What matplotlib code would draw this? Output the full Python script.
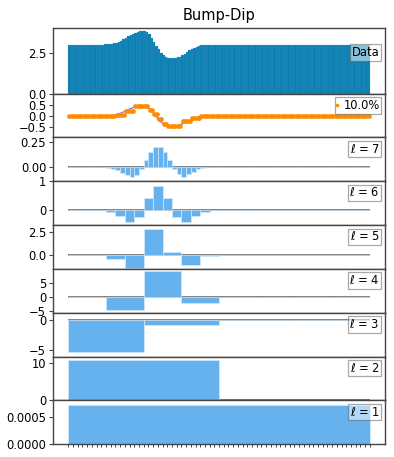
import numpy as np
import matplotlib
matplotlib.use("Agg")
import matplotlib.pyplot as plt
from matplotlib.lines import Line2D

title = "Bump-Dip"

data = [
    3.00, 3.00, 3.00, 3.00, 3.00, 3.00, 3.00, 3.00, 3.00, 3.00, 3.00, 3.00, 3.00, 3.00, 3.00, 3.01,
    3.01, 3.02, 3.04, 3.07, 3.11, 3.17, 3.24, 3.32, 3.41, 3.50, 3.58, 3.66, 3.72, 3.77, 3.81, 3.83,
    3.82, 3.76, 3.63, 3.43, 3.18, 2.93, 2.70, 2.51, 2.37, 2.27, 2.20, 2.16, 2.15, 2.17, 2.21, 2.27,
    2.35, 2.44, 2.54, 2.64, 2.73, 2.81, 2.88, 2.93, 2.96, 2.98, 2.99, 3.00, 3.00, 3.00, 3.00, 3.00,
    3.00, 3.00, 3.00, 3.00, 3.00, 3.00, 3.00, 3.00, 3.00, 3.00, 3.00, 3.00, 3.00, 3.00, 3.00, 3.00,
    3.00, 3.00, 3.00, 3.00, 3.00, 3.00, 3.00, 3.00, 3.00, 3.00, 3.00, 3.00, 3.00, 3.00, 3.00, 3.00,
    3.00, 3.00, 3.00, 3.00, 3.00, 3.00, 3.00, 3.00, 3.00, 3.00, 3.00, 3.00, 3.00, 3.00, 3.00, 3.00,
    3.00, 3.00, 3.00, 3.00, 3.00, 3.00, 3.00, 3.00, 3.00, 3.00, 3.00, 3.00, 3.00, 3.00, 3.00, 3.00,
]

signal_centered = [
    0, 0, 0, 0, 0, 0, 0, 0, 0, 0, 0, 0, 0, 0, 0, 0,
    0.00, 0.01, 0.02, 0.04, 0.07, 0.10, 0.14, 0.19, 0.24, 0.29, 0.34, 0.38, 0.41, 0.44, 0.45, 0.46,
    0.45, 0.41, 0.33, 0.22, 0.09, -0.05, -0.17, -0.27, -0.35, -0.40, -0.43, -0.45, -0.45, -0.44, -0.42, -0.38,
    -0.34, -0.29, -0.24, -0.19, -0.14, -0.10, -0.06, -0.04, -0.02, -0.01, 0, 0, 0, 0, 0, 0,
    0, 0, 0, 0, 0, 0, 0, 0, 0, 0, 0, 0, 0, 0, 0, 0,
    0, 0, 0, 0, 0, 0, 0, 0, 0, 0, 0, 0, 0, 0, 0, 0,
    0, 0, 0, 0, 0, 0, 0, 0, 0, 0, 0, 0, 0, 0, 0, 0,
    0, 0, 0, 0, 0, 0, 0, 0, 0, 0, 0, 0, 0, 0, 0, 0,
]

recon_label = "10.0%"
recon = [
    0, 0, 0, 0, 0, 0, 0, 0, 0, 0, 0, 0, 0, 0, 0, 0,
    0, 0, 0, 0, 0.07, 0.07, 0.07, 0.07, 0.24, 0.24, 0.24, 0.24, 0.46, 0.46, 0.46, 0.46,
    0.46, 0.46, 0.28, 0.28, 0.10, 0.10, -0.11, -0.11, -0.33, -0.33, -0.44, -0.44, -0.44, -0.44, -0.44, -0.44,
    -0.21, -0.21, -0.21, -0.21, -0.07, -0.07, -0.07, -0.07, 0, 0, 0, 0, 0, 0, 0, 0,
    0, 0, 0, 0, 0, 0, 0, 0, 0, 0, 0, 0, 0, 0, 0, 0,
    0, 0, 0, 0, 0, 0, 0, 0, 0, 0, 0, 0, 0, 0, 0, 0,
    0, 0, 0, 0, 0, 0, 0, 0, 0, 0, 0, 0, 0, 0, 0, 0,
    0, 0, 0, 0, 0, 0, 0, 0, 0, 0, 0, 0, 0, 0, 0, 0,
]

level7 = [
    0, 0, 0, 0, 0, 0, 0, 0,
    -0.007, -0.017, -0.034, -0.058, -0.085, -0.102, -0.085, -0.017,
    0.068, 0.147, 0.205, 0.205, 0.147, 0.068, -0.017, -0.078,
    -0.102, -0.078, -0.051, -0.027, -0.010, 0, 0, 0,
    0, 0, 0, 0, 0, 0, 0, 0,
    0, 0, 0, 0, 0, 0, 0, 0,
    0, 0, 0, 0, 0, 0, 0, 0,
    0, 0, 0, 0, 0, 0, 0, 0,
]
level6 = [
    0, 0, 0, 0, -0.06, -0.18, -0.40, -0.23,
    0.43, 0.82, 0.42, -0.23, -0.40, -0.20, -0.05, 0,
    0, 0, 0, 0, 0, 0, 0, 0,
    0, 0, 0, 0, 0, 0, 0, 0,
]
level5 = [0, 0, -0.44, -1.44, 2.77, 0.33, -1.18, -0.10, 0, 0, 0, 0, 0, 0, 0, 0]
level4 = [0, -4.4, 8.95, -2.1, 0, 0, 0, 0]
level3 = [-5.4, -0.83, 0, 0]
level2 = [10.7, 0]
level1 = [0.00072]

levels = [level7, level6, level5, level4, level3, level2, level1]
level_names = [7, 6, 5, 4, 3, 2, 1]
level_ylims = [(-0.147, 0.30), (-0.51, 1.0), (-1.57, 3.24), (-5.5, 9.8),
               (-6.1, 1.2), (0, 11.7), (0, 0.00081)]
level_yticks = [[0, 0.25], [0, 1], [0, 2.5], [-5, 0, 5], [-5, 0], [0, 10], [0, 0.0005]]
level_yfmt = ["%.2f", "%d", "%.1f", "%d", "%d", "%d", "%.4f"]

FS = 8.3
data_color = "#0a7db2"
coef_color = "#66b2ef"
orange = "#ff8c00"
purple = "#9d6ff0"
spine_col = "#444444"

fig = plt.figure(figsize=(3.94, 4.57), dpi=100)
gs = fig.add_gridspec(9, 1, height_ratios=[1.5] + [1] * 8, hspace=0,
                      left=0.135, right=0.977, top=0.939, bottom=0.028)
axes = [fig.add_subplot(gs[0])]
for i in range(1, 9):
    axes.append(fig.add_subplot(gs[i], sharex=axes[0]))

n = len(data)
x = np.arange(n)
x_left = -0.5
x_right = n - 0.5

def style_legend(ax, handles, labels, **kw):
    leg = ax.legend(handles, labels, loc="upper right", fontsize=FS,
                    handlelength=0, handletextpad=kw.pop("handletextpad", 0.0),
                    borderpad=0.15, borderaxespad=0.3, fancybox=False,
                    framealpha=0.5, edgecolor="#555555", **kw)
    leg.get_frame().set_linewidth(0.9)
    return leg

# Panel 1: data
ax = axes[0]
ax.bar(x, data, width=1.0, color=data_color, edgecolor="#5aa8cc", linewidth=0.15)
ax.set_yticks([0, 2.5])
ax.set_yticklabels(["0.0", "2.5"])
ax.set_title(title, fontsize=10.5, pad=6)
style_legend(ax, [Line2D([], [], linestyle="none")], ["Data"],
             bbox_to_anchor=(1.0, 0.8))

# Panel 2: reconstruction
ax = axes[1]
ax.plot(x, signal_centered, color=purple, linewidth=1.0)
ax.plot(x, recon, linestyle="none", marker="o", markersize=3.4, color=orange,
        markeredgewidth=0)
ax.set_ylim(-0.95, 1.0)
ax.set_yticks([-0.5, 0, 0.5])
ax.set_yticklabels(["\u22120.5", "0.0", "0.5"])
style_legend(ax, [Line2D([], [], linestyle="none", marker="o", markersize=2.6,
                         color=orange, markeredgewidth=0)], [recon_label],
             handletextpad=0.6)

# Level panels
for ax, coefs, name, ylim, yt, fmt in zip(axes[2:], levels, level_names,
                                           level_ylims, level_yticks, level_yfmt):
    w = n / len(coefs)
    lefts = x_left + w * np.arange(len(coefs))
    ax.hlines(0, x_left, x_right, color="#6e6e6e", linewidth=1.2, zorder=1)
    ax.bar(lefts, coefs, width=w, align="edge", color=coef_color,
           edgecolor="#d4e8fa", linewidth=0.5, zorder=2)
    ax.set_ylim(*ylim)
    ax.set_yticks(yt)
    ax.set_yticklabels([(fmt % v).replace("-", "\u2212") for v in yt])
    style_legend(ax, [Line2D([], [], linestyle="none")], [r"$\ell$ = %d" % name])

for ax in axes:
    ax.tick_params(axis="y", labelsize=FS, length=3, width=0.8, pad=2,
                   color=spine_col)
    ax.tick_params(axis="x", bottom=False, labelbottom=False)
    for s in ax.spines.values():
        s.set_color(spine_col)
        s.set_linewidth(1.0)

axes[-1].set_xticks(x_left + 2 * np.arange(n // 2 + 1))
axes[-1].tick_params(axis="x", bottom=True, labelbottom=False, length=2.5,
                     width=0.7, color=spine_col)

fig.savefig("out.png", dpi=100)
